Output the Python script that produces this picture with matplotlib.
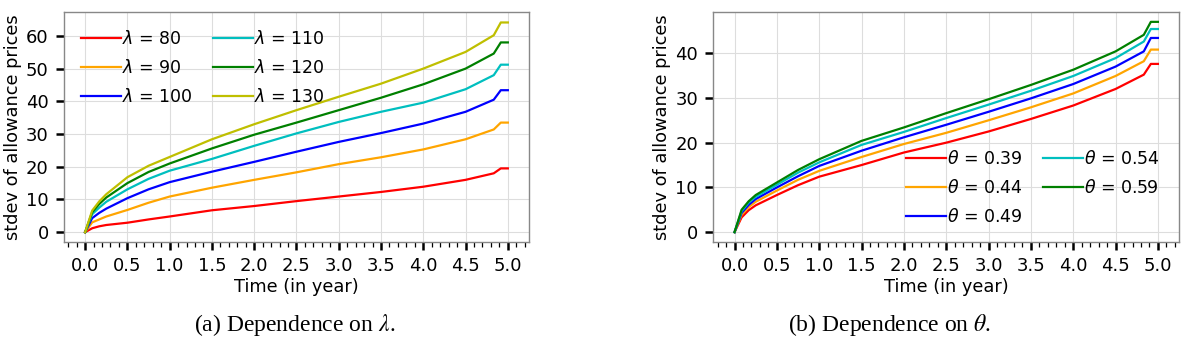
import matplotlib
matplotlib.use("Agg")
import matplotlib.pyplot as plt
from matplotlib.ticker import MultipleLocator

# time grid (years)
t = [0, 1/12, 2/12, 3/12, 0.5, 0.75, 1.0, 1.5, 2.0, 2.5, 3.0, 3.5, 4.0, 4.5, 58/12, 59/12, 5.0]

# panel (a): dependence on lambda
lam_labels = [80, 90, 100, 110, 120, 130]
lam_80 = [0, 1.2, 1.8, 2.2, 2.9, 3.9, 4.8, 6.7, 8.0, 9.5, 10.9, 12.3, 13.9, 16.0, 18.0, 19.5, 19.5]
lam_90 = [0, 3.0, 3.9, 4.8, 6.8, 9.0, 10.9, 13.6, 16.0, 18.3, 20.8, 22.9, 25.3, 28.4, 31.4, 33.5, 33.5]
lam_100 = [0, 4.3, 5.9, 7.2, 10.4, 13.1, 15.3, 18.5, 21.5, 24.6, 27.6, 30.3, 33.2, 36.8, 40.5, 43.4, 43.4]
lam_110 = [0, 5.5, 7.5, 9.3, 13.1, 16.3, 18.8, 22.4, 26.4, 30.2, 33.7, 36.8, 39.6, 43.7, 48.0, 51.2, 51.2]
lam_120 = [0, 6.1, 8.6, 10.6, 15.0, 18.4, 21.0, 25.6, 29.8, 33.5, 37.3, 41.1, 45.2, 50.0, 54.6, 58.0, 58.0]
lam_130 = [0, 6.6, 9.4, 11.6, 16.8, 20.3, 23.0, 28.4, 33.0, 37.3, 41.4, 45.4, 50.0, 55.1, 60.2, 64.1, 64.1]

# panel (b): dependence on theta
theta_labels = ["0.39", "0.44", "0.49", "0.54", "0.59"]
th_039 = [0, 3.3, 4.9, 6.0, 8.3, 10.5, 12.4, 15.0, 17.8, 20.0, 22.5, 25.3, 28.3, 32.0, 35.2, 37.6, 37.6]
th_044 = [0, 3.9, 5.6, 6.8, 9.3, 11.7, 13.7, 16.8, 19.7, 22.2, 25.0, 27.9, 31.0, 34.9, 38.2, 40.8, 40.8]
th_049 = [0, 4.3, 6.1, 7.4, 10.0, 12.5, 14.8, 18.2, 21.2, 24.0, 26.9, 29.9, 33.1, 37.0, 40.4, 43.4, 43.4]
th_054 = [0, 4.7, 6.6, 7.9, 10.6, 13.3, 15.6, 19.5, 22.4, 25.5, 28.5, 31.6, 34.9, 38.9, 42.6, 45.4, 45.4]
th_059 = [0, 5.0, 6.9, 8.3, 11.1, 13.9, 16.3, 20.4, 23.4, 26.6, 29.7, 32.9, 36.3, 40.4, 44.1, 47.0, 47.0]

lam_series = [lam_80, lam_90, lam_100, lam_110, lam_120, lam_130]
lam_colors = ["#ff0000", "#ffa500", "#0000ff", "#00bfbf", "#008000", "#bfbf00"]
th_series = [th_039, th_044, th_049, th_054, th_059]
th_colors = ["#ff0000", "#ffa500", "#0000ff", "#00bfbf", "#008000"]

fig = plt.figure(figsize=(11.85, 3.51), dpi=100)
ax1 = fig.add_axes([0.054, 0.3105, 0.3924, 0.6553])
ax2 = fig.add_axes([0.602, 0.3105, 0.393, 0.6553])

def style(ax):
    for s in ax.spines.values():
        s.set_color("#888888")
        s.set_linewidth(1.0)
    ax.grid(True, which="major", color="#dddddd", linewidth=0.8)
    ax.set_axisbelow(True)
    ax.set_xlim(-0.25, 5.25)
    ax.xaxis.set_major_locator(MultipleLocator(0.5))
    ax.xaxis.set_minor_locator(MultipleLocator(0.1))
    ax.yaxis.set_major_locator(MultipleLocator(10))
    ax.tick_params(axis="both", which="major", direction="out", length=6, width=1.8,
                   color="black", labelsize=13, pad=5)
    ax.tick_params(axis="x", which="minor", direction="out", length=3.5, width=0.9, color="black")
    ax.set_xlabel("Time (in year)", fontsize=12.8, labelpad=2)
    ax.set_ylabel("stdev of allowance prices", fontsize=12.8, labelpad=3)
    ax.set_xticklabels([f"{v:.1f}" for v in ax.get_xticks()])

leg_kw = dict(ncol=2, frameon=False, fontsize=12.5, handlelength=2.3,
              handletextpad=0.05, columnspacing=1.2, labelspacing=0.62,
              borderpad=0.0, borderaxespad=0.0)

for ys, c, l in zip(lam_series, lam_colors, lam_labels):
    ax1.plot(t, ys, color=c, lw=1.6, label=r"$\lambda$ = %d" % l)
ax1.set_ylim(-3.0, 67.3)
style(ax1)
ax1.legend(loc="upper left", bbox_to_anchor=(0.037, 0.92), **leg_kw)

for ys, c, l in zip(th_series, th_colors, theta_labels):
    ax2.plot(t, ys, color=c, lw=1.6, label=r"$\theta$ = %s" % l)
ax2.set_ylim(-2.2, 49.2)
style(ax2)
ax2.legend(loc="lower right", bbox_to_anchor=(0.959, 0.07), **leg_kw)

fig.text(0.249, 0.074, r"(a) Dependence on $\lambda$.", ha="center", va="center",
         fontsize=17, family="Liberation Serif", math_fontfamily="stix")
fig.text(0.751, 0.074, r"(b) Dependence on $\theta$.", ha="center", va="center",
         fontsize=17, family="Liberation Serif", math_fontfamily="stix")

fig.savefig("out.png", dpi=100)
